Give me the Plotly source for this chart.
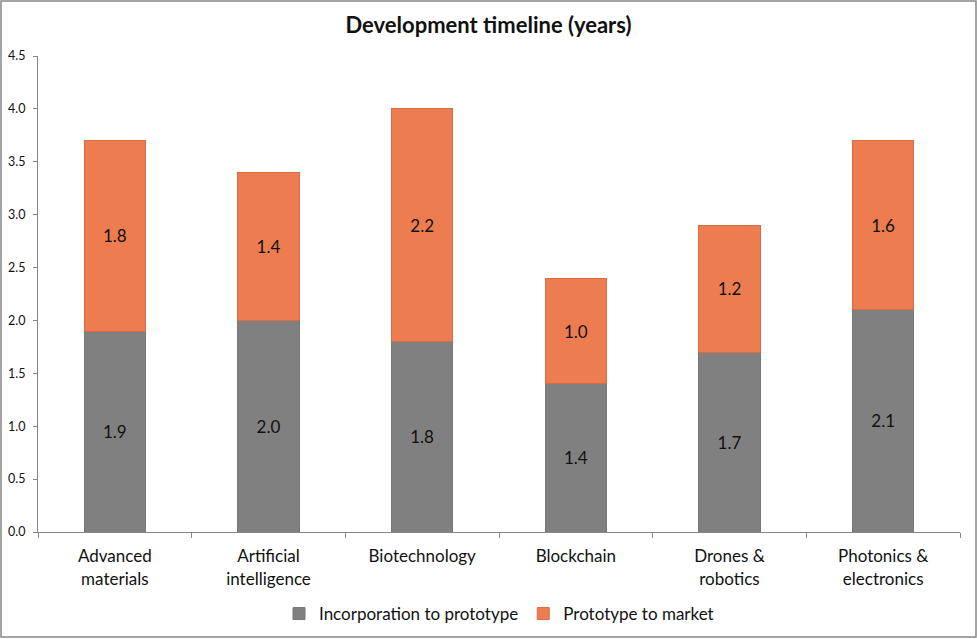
import plotly.graph_objects as go

categories = ["Advanced<br>materials", "Artificial<br>intelligence", "Biotechnology",
              "Blockchain", "Drones &<br>robotics", "Photonics &<br>electronics"]
incorporation = [1.9, 2.0, 1.8, 1.4, 1.7, 2.1]
prototype_market = [1.8, 1.4, 2.2, 1.0, 1.2, 1.6]
y_ticks = [0.0, 0.5, 1.0, 1.5, 2.0, 2.5, 3.0, 3.5, 4.0, 4.5]

FONT = "Lato, 'Liberation Sans', sans-serif"
W, H = 977, 639
ml, mr, mt, mb = 38, 17, 56, 107
pw, ph = W - ml - mr, H - mt - mb

fig = go.Figure()
fig.add_trace(go.Bar(
    x=categories, y=incorporation, name="Incorporation to prototype",
    marker=dict(color="#808080", line=dict(color="#767676", width=1)),
    texttemplate="%{y:.1f}", textposition="inside", insidetextanchor="middle",
    textfont=dict(color="#111111", size=17, family=FONT),
))
fig.add_trace(go.Bar(
    x=categories, y=prototype_market, name="Prototype to market",
    marker=dict(color="#ED7D51", line=dict(color="#D86D45", width=1)),
    texttemplate="%{y:.1f}", textposition="inside", insidetextanchor="middle",
    textfont=dict(color="#111111", size=17, family=FONT),
))

fig.update_layout(
    width=W, height=H,
    barmode="stack", bargap=0.6,
    paper_bgcolor="white", plot_bgcolor="white",
    margin=dict(l=ml, r=mr, t=mt, b=mb, autoexpand=False),
    font=dict(family=FONT, color="#111111"),
    title=dict(text="<b>Development timeline (years)</b>", x=0.5, xanchor="center",
               y=1 - 25 / H, yanchor="middle", font=dict(size=22, family=FONT, color="#111111")),
    uniformtext=dict(mode=False),
    legend=dict(orientation="h", x=0.5, xanchor="center", y=-(614 - 532) / ph, yanchor="middle",
                font=dict(size=17, family=FONT), traceorder="normal", itemwidth=30),
    xaxis=dict(showline=True, linecolor="#868686", linewidth=1, ticks="outside",
               tickson="boundaries", ticklen=5, tickcolor="#868686", ticklabelstandoff=9,
               tickfont=dict(size=17, family=FONT), showgrid=False),
    yaxis=dict(range=[0, 4.5], tickvals=y_ticks, tickformat=".1f", showline=True,
               linecolor="#868686", linewidth=1, ticks="outside", ticklen=4,
               tickcolor="#868686", ticklabelstandoff=5, tickfont=dict(size=12.5, family=FONT),
               showgrid=False, zeroline=False),
    shapes=[dict(type="rect", xref="paper", yref="paper",
                 x0=(1 - ml) / pw, x1=(976 - ml) / pw,
                 y0=(532 - 637) / ph, y1=(532 - 1) / ph,
                 line=dict(color="#868686", width=1.5))],
)

fig.write_html("out.html", config={"displayModeBar": False},
               post_script="document.body.style.margin='0';document.body.style.overflow='hidden';")
